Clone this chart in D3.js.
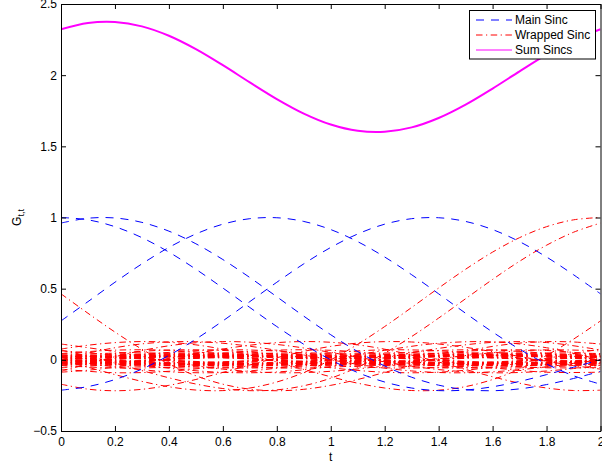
<!DOCTYPE html>
<html>
<head>
<meta charset="utf-8">
<script src="https://cdn.jsdelivr.net/npm/d3@7"></script>
<style>
  html, body { margin: 0; padding: 0; background: #fff; }
  svg { display: block; font-family: "Liberation Sans", Arial, Helvetica, sans-serif; }
</style>
</head>
<body>
<svg id="chart" width="602" height="463"></svg>
<script>
// Sample grids (t)
const tFine = [0, 0.1, 0.2, 0.3, 0.4, 0.5, 0.6, 0.7, 0.8, 0.9, 1, 1.1, 1.2, 1.3, 1.4, 1.5, 1.6, 1.7, 1.8, 1.9, 2];
const tCoarse = [0, 0.2, 0.4, 0.6, 0.8, 1, 1.2, 1.4, 1.6, 1.8, 2];

// Main sinc kernels, one per sample instant
const mainSinc = [
  [1, 0.9836, 0.9355, 0.8584, 0.7568, 0.6366, 0.5046, 0.3679, 0.2339, 0.1093, 0, -0.0894, -0.1559, -0.1981, -0.2162, -0.2122, -0.1892, -0.1515, -0.1039, -0.0518, 0],
  [0.9609, 0.9949, 0.9967, 0.9657, 0.9041, 0.8154, 0.7047, 0.5782, 0.4432, 0.3068, 0.1763, 0.0579, -0.0429, -0.1223, -0.1779, -0.2092, -0.2170, -0.2040, -0.1738, -0.1310, -0.0807],
  [0.2734, 0.4089, 0.5450, 0.6743, 0.7896, 0.8843, 0.9531, 0.9917, 0.9983, 0.9723, 0.9152, 0.8302, 0.7224, 0.5979, 0.4637, 0.3271, 0.1952, 0.0746, -0.0291, -0.1119, -0.1711],
  [-0.2132, -0.1880, -0.1385, -0.0649, 0.0309, 0.1453, 0.2734, 0.4089, 0.5450, 0.6743, 0.7896, 0.8843, 0.9531, 0.9917, 0.9983, 0.9723, 0.9152, 0.8302, 0.7224, 0.5979, 0.4637]
];

// Nearest wrapped copies (one period either side), on the fine grid
const wrappedNear = [
  [0, -0.0518, -0.1039, -0.1515, -0.1892, -0.2122, -0.2162, -0.1981, -0.1559, -0.0894, 0, 0.1093, 0.2339, 0.3679, 0.5046, 0.6366, 0.7568, 0.8584, 0.9355, 0.9836, 1],
  [0, 0.0468, 0.0850, 0.1120, 0.1261, 0.1273, 0.1164, 0.0954, 0.0668, 0.0339, 0, -0.0317, -0.0585, -0.0780, -0.0890, -0.0909, -0.0841, -0.0696, -0.0492, -0.0252, 0],
  [0.0691, 0.0266, -0.0229, -0.0755, -0.1262, -0.1700, -0.2017, -0.2166, -0.2110, -0.1821, -0.1290, -0.0519, 0.0470, 0.1638, 0.2934, 0.4295, 0.5650, 0.6926, 0.8052, 0.8964, 0.9609],
  [-0.0807, -0.0281, 0.0219, 0.0653, 0.0987, 0.1200, 0.1282, 0.1238, 0.1081, 0.0833, 0.0524, 0.0186, -0.0147, -0.0445, -0.0683, -0.0841, -0.0910, -0.0889, -0.0784, -0.0610, -0.0387],
  [0.0760, 0.1026, 0.1209, 0.1283, 0.1233, 0.1052, 0.0747, 0.0335, -0.0152, -0.0676, -0.1189, -0.1641, -0.1979, -0.2156, -0.2132, -0.1880, -0.1385, -0.0649, 0.0309, 0.1453, 0.2734],
  [-0.1711, -0.2060, -0.2172, -0.2071, -0.1792, -0.1380, -0.0885, -0.0360, 0.0148, 0.0593, 0.0944, 0.1176, 0.1278, 0.1253, 0.1111, 0.0875, 0.0573, 0.0237, -0.0099, -0.0404, -0.0652],
  [-0.0867, -0.0730, -0.0511, -0.0226, 0.0101, 0.0440, 0.0760, 0.1026, 0.1209, 0.1283, 0.1233, 0.1052, 0.0747, 0.0335, -0.0152, -0.0676, -0.1189, -0.1641, -0.1979, -0.2156, -0.2132],
  [0.4637, 0.3271, 0.1952, 0.0746, -0.0291, -0.1119, -0.1711, -0.2060, -0.2172, -0.2071, -0.1792, -0.1380, -0.0885, -0.0360, 0.0148, 0.0593, 0.0944, 0.1176, 0.1278, 0.1253, 0.1111]
];

// Farther wrapped copies (2 to 6 periods away), on the coarse grid
const wrappedFar = [
  [0, -0.0492, -0.0841, -0.0890, -0.0585, 0, 0.0668, 0.1164, 0.1261, 0.0850, 0],
  [0, 0.0445, 0.0688, 0.0658, 0.0390, 0, -0.0360, -0.0561, -0.0541, -0.0323, 0],
  [0, -0.0323, -0.0541, -0.0561, -0.0360, 0, 0.0390, 0.0658, 0.0688, 0.0445, 0],
  [0, 0.0302, 0.0473, 0.0459, 0.0275, 0, -0.0260, -0.0409, -0.0398, -0.0240, 0],
  [0, -0.0240, -0.0398, -0.0409, -0.0260, 0, 0.0275, 0.0459, 0.0473, 0.0302, 0],
  [0, 0.0228, 0.0360, 0.0352, 0.0213, 0, -0.0203, -0.0322, -0.0315, -0.0191, 0],
  [0, -0.0191, -0.0315, -0.0322, -0.0203, 0, 0.0213, 0.0352, 0.0360, 0.0228, 0],
  [0, 0.0183, 0.0291, 0.0286, 0.0173, 0, -0.0167, -0.0266, -0.0261, -0.0159, 0],
  [0, -0.0159, -0.0261, -0.0266, -0.0167, 0, 0.0173, 0.0286, 0.0291, 0.0183, 0],
  [0, 0.0153, 0.0244, 0.0240, 0.0146, 0, -0.0142, -0.0226, -0.0223, -0.0136, 0],

  [0.0358, -0.0113, -0.0590, -0.0882, -0.0852, -0.0472, 0.0152, 0.0804, 0.1227, 0.1214, 0.0691],
  [-0.0387, 0.0111, 0.0522, 0.0705, 0.0615, 0.0307, -0.0089, -0.0422, -0.0576, -0.0506, -0.0255],
  [0.0242, -0.0075, -0.0385, -0.0564, -0.0534, -0.0289, 0.0091, 0.0466, 0.0688, 0.0656, 0.0358],
  [-0.0255, 0.0074, 0.0355, 0.0487, 0.0430, 0.0218, -0.0064, -0.0306, -0.0421, -0.0374, -0.0190],
  [0.0183, -0.0056, -0.0286, -0.0415, -0.0389, -0.0208, 0.0064, 0.0328, 0.0478, 0.0450, 0.0242],
  [-0.0190, 0.0056, 0.0269, 0.0371, 0.0331, 0.0168, -0.0050, -0.0240, -0.0332, -0.0296, -0.0151],
  [0.0147, -0.0045, -0.0227, -0.0328, -0.0306, -0.0163, 0.0050, 0.0253, 0.0367, 0.0342, 0.0183],
  [-0.0151, 0.0045, 0.0216, 0.0300, 0.0269, 0.0137, -0.0041, -0.0197, -0.0274, -0.0245, -0.0126],
  [0.0123, -0.0038, -0.0188, -0.0271, -0.0252, -0.0134, 0.0041, 0.0206, 0.0297, 0.0276, 0.0147],
  [-0.0126, 0.0037, 0.0181, 0.0252, 0.0226, 0.0116, -0.0034, -0.0167, -0.0233, -0.0209, -0.0108],

  [0.0441, 0.0680, 0.0669, 0.0389, -0.0075, -0.0558, -0.0870, -0.0867, -0.0511, 0.0101, 0.0760],
  [-0.0652, -0.0906, -0.0805, -0.0423, 0.0074, 0.0498, 0.0701, 0.0631, 0.0335, -0.0060, -0.0402],
  [0.0311, 0.0473, 0.0459, 0.0263, -0.0050, -0.0365, -0.0558, -0.0544, -0.0313, 0.0060, 0.0441],
  [-0.0402, -0.0572, -0.0519, -0.0278, 0.0050, 0.0338, 0.0483, 0.0441, 0.0237, -0.0043, -0.0291],
  [0.0240, 0.0362, 0.0349, 0.0198, -0.0038, -0.0271, -0.0410, -0.0396, -0.0226, 0.0043, 0.0311],
  [-0.0291, -0.0418, -0.0383, -0.0207, 0.0037, 0.0256, 0.0368, 0.0339, 0.0183, -0.0033, -0.0228],
  [0.0195, 0.0294, 0.0282, 0.0159, -0.0030, -0.0215, -0.0325, -0.0312, -0.0177, 0.0033, 0.0240],
  [-0.0228, -0.0329, -0.0303, -0.0165, 0.0030, 0.0206, 0.0298, 0.0275, 0.0150, -0.0027, -0.0187],
  [0.0165, 0.0247, 0.0236, 0.0133, -0.0025, -0.0179, -0.0268, -0.0257, -0.0145, 0.0027, 0.0195],
  [-0.0187, -0.0272, -0.0251, -0.0137, 0.0025, 0.0172, 0.0250, 0.0231, 0.0126, -0.0023, -0.0159],

  [-0.0544, -0.0313, 0.0060, 0.0441, 0.0680, 0.0669, 0.0389, -0.0075, -0.0558, -0.0870, -0.0867],
  [0.1111, 0.0573, -0.0099, -0.0652, -0.0906, -0.0805, -0.0423, 0.0074, 0.0498, 0.0701, 0.0631],
  [-0.0396, -0.0226, 0.0043, 0.0311, 0.0473, 0.0459, 0.0263, -0.0050, -0.0365, -0.0558, -0.0544],
  [0.0631, 0.0335, -0.0060, -0.0402, -0.0572, -0.0519, -0.0278, 0.0050, 0.0338, 0.0483, 0.0441],
  [-0.0312, -0.0177, 0.0033, 0.0240, 0.0362, 0.0349, 0.0198, -0.0038, -0.0271, -0.0410, -0.0396],
  [0.0441, 0.0237, -0.0043, -0.0291, -0.0418, -0.0383, -0.0207, 0.0037, 0.0256, 0.0368, 0.0339],
  [-0.0257, -0.0145, 0.0027, 0.0195, 0.0294, 0.0282, 0.0159, -0.0030, -0.0215, -0.0325, -0.0312],
  [0.0339, 0.0183, -0.0033, -0.0228, -0.0329, -0.0303, -0.0165, 0.0030, 0.0206, 0.0298, 0.0275],
  [-0.0219, -0.0123, 0.0023, 0.0165, 0.0247, 0.0236, 0.0133, -0.0025, -0.0179, -0.0268, -0.0257],
  [0.0275, 0.0150, -0.0027, -0.0187, -0.0272, -0.0251, -0.0137, 0.0025, 0.0172, 0.0250, 0.0231]
];

// Sum of all sinc kernels
const sumSincs = [2.323, 2.367, 2.374, 2.343, 2.277, 2.183, 2.070, 1.949, 1.832, 1.730, 1.653, 1.609, 1.602, 1.633, 1.699, 1.793, 1.906, 2.027, 2.144, 2.246, 2.323];

// Axis ticks
const xTicks = [0, 0.2, 0.4, 0.6, 0.8, 1, 1.2, 1.4, 1.6, 1.8, 2];
const xTickLabels = ["0", "0.2", "0.4", "0.6", "0.8", "1", "1.2", "1.4", "1.6", "1.8", "2"];
const yTicks = [-0.5, 0, 0.5, 1, 1.5, 2, 2.5];
const yTickLabels = ["\u22120.5", "0", "0.5", "1", "1.5", "2", "2.5"];

const legendLabels = ["Main Sinc", "Wrapped Sinc", "Sum Sincs"];

// ---- drawing ----
const svg = d3.select("#chart");
const plot = { left: 61, right: 600.5, top: 4, bottom: 431 };

const x = d3.scaleLinear().domain([0, 2]).range([plot.left, plot.right]);
const y = d3.scaleLinear().domain([-0.5, 2.5]).range([plot.bottom, plot.top]);

const BLUE = "#0000ff", RED = "#ff0000", MAGENTA = "#ff00ff";
const DASH = "8,7";
const DASHDOT = "6.5,3.5,1.2,3.5";

svg.append("rect").attr("width", 602).attr("height", 463).attr("fill", "#fff");

svg.append("clipPath").attr("id", "plotClip")
  .append("rect")
  .attr("x", plot.left).attr("y", plot.top)
  .attr("width", plot.right - plot.left).attr("height", plot.bottom - plot.top);

const curves = svg.append("g").attr("clip-path", "url(#plotClip)");

const lineOn = grid => d3.line()
  .x((d, i) => x(grid[i]))
  .y(d => y(d))
  .curve(d3.curveCatmullRom.alpha(0.5));

const fineLine = lineOn(tFine);
const coarseLine = lineOn(tCoarse);

// wrapped copies (red dash-dot)
curves.append("g").selectAll("path").data(wrappedFar).join("path")
  .attr("d", coarseLine)
  .attr("fill", "none").attr("stroke", RED).attr("stroke-width", 1)
  .attr("stroke-dasharray", DASHDOT);

curves.append("g").selectAll("path").data(wrappedNear).join("path")
  .attr("d", fineLine)
  .attr("fill", "none").attr("stroke", RED).attr("stroke-width", 1)
  .attr("stroke-dasharray", DASHDOT);

// main kernels (blue dashed)
curves.append("g").selectAll("path").data(mainSinc).join("path")
  .attr("d", fineLine)
  .attr("fill", "none").attr("stroke", BLUE).attr("stroke-width", 1)
  .attr("stroke-dasharray", DASH);

// sum (magenta solid)
curves.append("path").datum(sumSincs)
  .attr("d", fineLine)
  .attr("fill", "none").attr("stroke", MAGENTA).attr("stroke-width", 2);

// ---- axes (inward ticks on all four sides) ----
const TICK = 5;
const styleAxis = g => {
  g.selectAll(".domain").attr("stroke", "#000").attr("stroke-width", 1);
  g.selectAll(".tick line").attr("stroke", "#000").attr("stroke-width", 1);
  g.selectAll("text").attr("fill", "#000").attr("font-size", "12px")
    .attr("font-family", "'Liberation Sans', Arial, Helvetica, sans-serif");
};

svg.append("g").attr("transform", `translate(0,${plot.bottom})`)
  .call(d3.axisBottom(x).tickValues(xTicks).tickFormat((d, i) => xTickLabels[i])
    .tickSizeInner(-TICK).tickSizeOuter(0).tickPadding(6))
  .call(styleAxis);

svg.append("g").attr("transform", `translate(0,${plot.top})`)
  .call(d3.axisTop(x).tickValues(xTicks).tickFormat("")
    .tickSizeInner(-TICK).tickSizeOuter(0))
  .call(styleAxis);

svg.append("g").attr("transform", `translate(${plot.left},0)`)
  .call(d3.axisLeft(y).tickValues(yTicks).tickFormat((d, i) => yTickLabels[i])
    .tickSizeInner(-TICK).tickSizeOuter(0).tickPadding(4))
  .call(styleAxis);

svg.append("g").attr("transform", `translate(${plot.right},0)`)
  .call(d3.axisRight(y).tickValues(yTicks).tickFormat("")
    .tickSizeInner(-TICK).tickSizeOuter(0))
  .call(styleAxis);

// axis titles
svg.append("text")
  .attr("x", x(1)).attr("y", 461)
  .attr("text-anchor", "middle").attr("font-size", "12px").attr("fill", "#000")
  .text("t");

const yTitle = svg.append("text")
  .attr("transform", `translate(21,${(plot.top + plot.bottom) / 2}) rotate(-90)`)
  .attr("text-anchor", "middle").attr("font-size", "12px").attr("fill", "#000");
yTitle.append("tspan").text("G");
yTitle.append("tspan").attr("font-size", "9px").attr("dy", "3").text("t,t");

// ---- legend ----
const legend = svg.append("g");
legend.append("rect")
  .attr("x", 469.5).attr("y", 10.5).attr("width", 126).attr("height", 48.5)
  .attr("fill", "#fff").attr("stroke", "#000").attr("stroke-width", 1);

const legendStyles = [
  { color: BLUE, dash: DASH, width: 1 },
  { color: RED, dash: DASHDOT, width: 1 },
  { color: MAGENTA, dash: null, width: 1 }
];
const legendRows = [20, 35, 50];

legendLabels.forEach((label, i) => {
  legend.append("line")
    .attr("x1", 476).attr("x2", 512)
    .attr("y1", legendRows[i]).attr("y2", legendRows[i])
    .attr("stroke", legendStyles[i].color)
    .attr("stroke-width", legendStyles[i].width)
    .attr("stroke-dasharray", legendStyles[i].dash);
  legend.append("text")
    .attr("x", 515).attr("y", legendRows[i]).attr("dy", "0.36em")
    .attr("font-size", "12px").attr("fill", "#000")
    .text(label);
});
</script>
</body>
</html>
